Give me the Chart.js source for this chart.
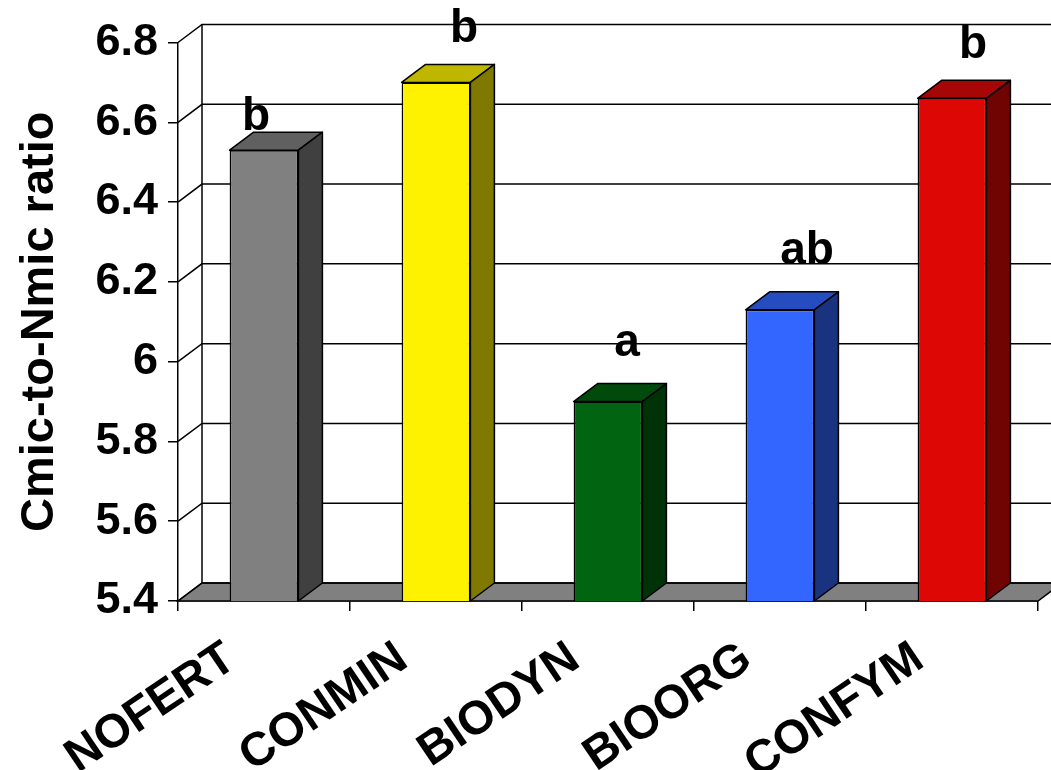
<!DOCTYPE html>
<html lang="en">
<head>
<meta charset="UTF-8" />
<title>Cmic-to-Nmic ratio</title>
<script src="https://cdn.jsdelivr.net/npm/chart.js"></script>
<style>
  html, body { margin: 0; padding: 0; background: #fff; }
</style>
</head>
<body>
<canvas id="ratioChart" width="1051" height="770"></canvas>
<script>
  // treatment means and significance letters
  const treatments = ['NOFERT', 'CONMIN', 'BIODYN', 'BIOORG', 'CONFYM'];
  const ratios = [6.53, 6.70, 5.90, 6.13, 6.66];
  const letters = ['b', 'b', 'a', 'ab', 'b'];
  const yMin = 5.4;
  const yMax = 6.8;
  const yStep = 0.2;

  // front face colours; top and side faces are darker shades of these
  const faceColors = ['#808080', '#fff200', '#006410', '#3366ff', '#dd0806'];
  // letter placement, relative to the top front edge of each bar
  const letterNudge = [[-8, -20], [28, -40], [19, -46], [27, -46], [21, -40]];

  const DX = 24, DY = -18;   // depth of the box
  const FONT = '"Liberation Sans", Arial, Helvetica, sans-serif';

  function shade(hex, k) {
    const n = parseInt(hex.slice(1), 16);
    const r = Math.round(((n >> 16) & 255) * k);
    const g = Math.round(((n >> 8) & 255) * k);
    const b = Math.round((n & 255) * k);
    return `rgb(${r},${g},${b})`;
  }

  function poly(ctx, pts, fill) {
    ctx.beginPath();
    ctx.moveTo(pts[0][0], pts[0][1]);
    for (let i = 1; i < pts.length; i++) ctx.lineTo(pts[i][0], pts[i][1]);
    ctx.closePath();
    ctx.fillStyle = fill;
    ctx.fill();
    ctx.stroke();
  }

  // walls, floor and the extra faces of the bars
  const box3d = {
    id: 'box3d',
    beforeDatasetsDraw(chart) {
      const { ctx, chartArea: a, scales: { y } } = chart;
      ctx.save();
      ctx.lineWidth = 1.5;
      ctx.strokeStyle = '#000';
      poly(ctx, [[a.left, a.bottom], [a.right, a.bottom],
                 [a.right + DX, a.bottom + DY], [a.left + DX, a.bottom + DY]], '#808080');
      y.ticks.forEach(t => {
        const py = y.getPixelForValue(t.value);
        ctx.beginPath();
        ctx.moveTo(a.left, py);
        ctx.lineTo(a.left + DX, py + DY);
        ctx.lineTo(a.right + DX, py + DY);
        ctx.stroke();
      });
      ctx.beginPath();
      ctx.moveTo(a.left + DX, a.top + DY);
      ctx.lineTo(a.left + DX, a.bottom + DY);
      ctx.stroke();
      ctx.restore();
    },
    afterDatasetsDraw(chart) {
      const { ctx, chartArea: a } = chart;
      const meta = chart.getDatasetMeta(0);
      ctx.save();
      ctx.lineWidth = 1.5;
      ctx.strokeStyle = '#000';
      ctx.lineJoin = 'round';
      meta.data.forEach((bar, i) => {
        const { x, y, base, width } = bar.getProps(['x', 'y', 'base', 'width'], true);
        const l = x - width / 2, r = x + width / 2;
        const b = Math.min(base, a.bottom);   // bars rise from the floor, not from zero
        poly(ctx, [[l, y], [r, y], [r + DX, y + DY], [l + DX, y + DY]], shade(faceColors[i], 0.75));
        poly(ctx, [[r, y], [r + DX, y + DY], [r + DX, b + DY], [r, b]], shade(faceColors[i], 0.5));
        ctx.fillStyle = '#000';
        ctx.font = 'bold 46px ' + FONT;
        ctx.textAlign = 'center';
        ctx.textBaseline = 'alphabetic';
        ctx.fillText(letters[i], x + letterNudge[i][0], y + letterNudge[i][1]);
      });
      ctx.restore();
    }
  };

  const ctx = document.getElementById('ratioChart').getContext('2d');
  new Chart(ctx, {
    type: 'bar',
    data: {
      labels: treatments,
      datasets: [{
        data: ratios,
        backgroundColor: faceColors,
        borderColor: '#000',
        borderWidth: 1.5,
        borderSkipped: false,
        barPercentage: 0.4,
        categoryPercentage: 1
      }]
    },
    options: {
      responsive: false,
      animation: false,
      layout: { padding: { top: 42.5, right: 13, left: 0, bottom: 0 } },
      plugins: { legend: { display: false }, tooltip: { enabled: false } },
      scales: {
        y: {
          min: yMin,
          max: yMax,
          ticks: {
            stepSize: yStep,
            color: '#000',
            padding: 10,
            font: { family: FONT, size: 45, weight: 'bold' },
            callback: v => String(+v.toFixed(1))
          },
          grid: { drawOnChartArea: false, tickLength: 10, color: '#000', lineWidth: 1.5 },
          border: { color: '#000', width: 1.5 },
          title: {
            display: true,
            text: 'Cmic-to-Nmic ratio',
            color: '#000',
            font: { family: FONT, size: 47, weight: 'bold' },
            padding: { top: 12, bottom: 0 }
          },
          afterFit: s => { s.width = 178; }
        },
        x: {
          offset: true,
          grid: { offset: true, drawOnChartArea: false, tickLength: 10, color: '#000', lineWidth: 1.5 },
          border: { color: '#000', width: 1.5 },
          ticks: {
            color: '#000',
            autoSkip: false,
            minRotation: 34,
            maxRotation: 34,
            padding: 20,
            labelOffset: -33,
            font: { family: FONT, size: 47, weight: 'bold' }
          },
          afterFit: s => { s.height = 169; }
        }
      }
    },
    plugins: [box3d]
  });
</script>
</body>
</html>
